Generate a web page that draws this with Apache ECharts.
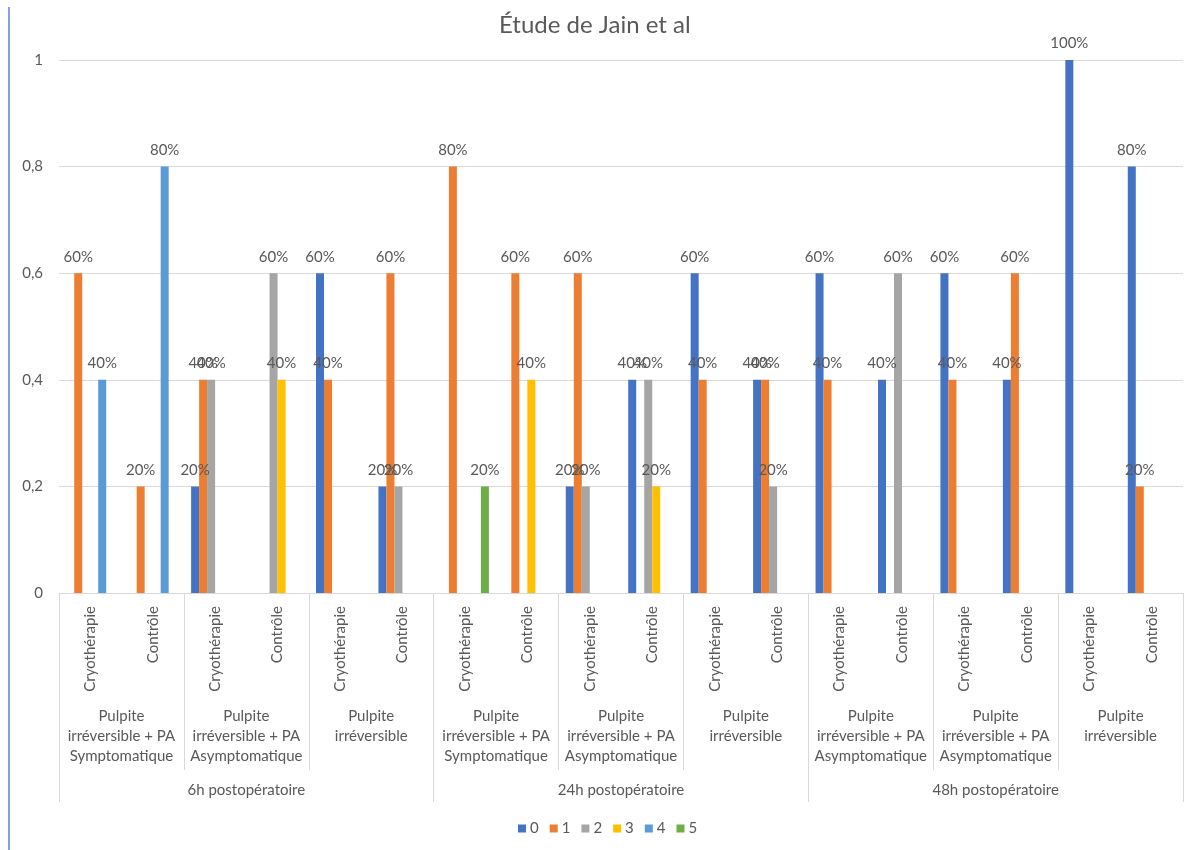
<!DOCTYPE html>
<html>
<head>
<meta charset="utf-8">
<script src="https://cdn.jsdelivr.net/npm/echarts@6/dist/echarts.min.js"></script>
<style>
html,body{margin:0;padding:0;background:#fff;}
#chart{width:1198px;height:850px;}
</style>
</head>
<body>
<div id="chart"></div>
<script>
const titleText = 'Étude de Jain et al';
const treatments = ['Cryothérapie','Contrôle','Cryothérapie','Contrôle','Cryothérapie','Contrôle',
  'Cryothérapie','Contrôle','Cryothérapie','Contrôle','Cryothérapie','Contrôle',
  'Cryothérapie','Contrôle','Cryothérapie','Contrôle','Cryothérapie','Contrôle'];
const subgroups = [
  'Pulpite\nirréversible + PA\nSymptomatique',
  'Pulpite\nirréversible + PA\nAsymptomatique',
  'Pulpite\nirréversible',
  'Pulpite\nirréversible + PA\nSymptomatique',
  'Pulpite\nirréversible + PA\nAsymptomatique',
  'Pulpite\nirréversible',
  'Pulpite\nirréversible + PA\nAsymptomatique',
  'Pulpite\nirréversible + PA\nAsymptomatique',
  'Pulpite\nirréversible'
];
const periods = ['6h postopératoire','24h postopératoire','48h postopératoire'];
const seriesNames = ['0','1','2','3','4','5'];
const s0 = [null,null,0.2,null,0.6,0.2,null,null,0.2,0.4,0.6,0.4,0.6,0.4,0.6,0.4,1.0,0.8];
const s1 = [0.6,0.2,0.4,null,0.4,0.6,0.8,0.6,0.6,null,0.4,0.4,0.4,null,0.4,0.6,null,0.2];
const s2 = [null,null,0.4,0.6,null,0.2,null,null,0.2,0.4,null,0.2,null,0.6,null,null,null,null];
const s3 = [null,null,null,0.4,null,null,null,0.4,null,0.2,null,null,null,null,null,null,null,null];
const s4 = [0.4,0.8,null,null,null,null,null,null,null,null,null,null,null,null,null,null,null,null];
const s5 = [null,null,null,null,null,null,0.2,null,null,null,null,null,null,null,null,null,null,null];
const colors = ['#4472C4','#ED7D31','#A5A5A5','#FFC000','#5B9BD5','#70AD47'];

const FONT = 'Lato';
const TXT = '#595959';
const GRID = '#d9d9d9';
const allData = [s0,s1,s2,s3,s4,s5];

const chart = echarts.init(document.getElementById('chart'), null, {renderer:'canvas'});
chart.setOption({
  animation:false,
  color: colors,
  textStyle:{fontFamily:FONT},
  title:{text:titleText,left:494,top:8,textStyle:{fontFamily:FONT,fontSize:24,fontWeight:'normal',color:TXT}},
  legend:{data:seriesNames,left:513,top:816,icon:'rect',itemWidth:8,itemHeight:8,itemGap:11,
    textStyle:{fontFamily:FONT,fontSize:15,color:TXT,padding:[0,0,0,-1]}},
  grid:{left:59,right:15,top:60,bottom:257,containLabel:false},
  graphic:[{type:'line',shape:{x1:9,y1:7,x2:9,y2:850},style:{stroke:'#5a82d8',lineWidth:1.5},silent:true}],
  yAxis:{type:'value',min:0,max:1,interval:0.2,
    axisLine:{show:false},axisTick:{show:false},
    splitLine:{lineStyle:{color:GRID,width:1}},
    axisLabel:{margin:16,color:TXT,fontFamily:FONT,fontSize:15,
      formatter:v=>String(+v.toFixed(1)).replace('.',',')}},
  xAxis:[
    {type:'category',data:treatments,position:'bottom',
      axisLine:{lineStyle:{color:GRID}},axisTick:{show:false},
      axisLabel:{interval:0,rotate:90,margin:13,color:TXT,fontFamily:FONT,fontSize:15}},
    {type:'category',data:subgroups,position:'bottom',gridIndex:0,
      axisLine:{show:false},
      axisTick:{show:true,length:177,lineStyle:{color:GRID}},
      axisLabel:{interval:0,margin:113,color:TXT,fontFamily:FONT,fontSize:15,lineHeight:20,verticalAlign:'top'}},
    {type:'category',data:periods,position:'bottom',gridIndex:0,
      axisLine:{show:false},
      axisTick:{show:true,length:209,lineStyle:{color:GRID}},
      axisLabel:{interval:0,margin:190,color:TXT,fontFamily:FONT,fontSize:15,verticalAlign:'top'}}
  ],
  series: seriesNames.map((n,i)=>({
    name:n,type:'bar',xAxisIndex:0,data:allData[i],barWidth:8,barGap:'0%',
    itemStyle:{color:colors[i]},
    label:{show:true,position:'top',distance:9,color:TXT,fontFamily:FONT,fontSize:15,
      formatter:p=>p.value==null?'':Math.round(p.value*100)+'%'}
  }))
});
</script>
</body>
</html>
